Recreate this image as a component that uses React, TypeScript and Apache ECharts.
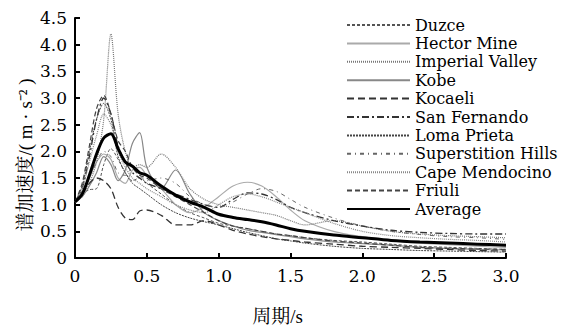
import React, { useEffect, useRef } from "react";
import * as echarts from "echarts";

const periods = [0, 0.05, 0.1, 0.15, 0.2, 0.25, 0.3, 0.35, 0.4, 0.45, 0.5, 0.6, 0.7, 0.8, 0.9, 1.0, 1.1, 1.2, 1.3, 1.4, 1.5, 1.6, 1.8, 2.0, 2.2, 2.4, 2.6, 2.8, 3.0];

const duzce = [1.05, 1.2, 1.28, 1.3, 1.75, 2.05, 1.85, 1.6, 1.45, 1.5, 1.4, 1.2, 1.0, 0.85, 0.75, 0.65, 0.6, 0.55, 0.5, 0.45, 0.42, 0.38, 0.33, 0.3, 0.26, 0.22, 0.2, 0.18, 0.16];
const hectorMine = [1.05, 1.2, 1.5, 1.8, 1.95, 1.85, 1.5, 1.4, 1.65, 1.7, 1.55, 1.3, 1.0, 0.85, 0.95, 1.15, 1.35, 1.42, 1.35, 1.15, 0.9, 0.7, 0.5, 0.4, 0.33, 0.28, 0.25, 0.22, 0.2];
const imperialValley = [1.05, 1.15, 1.4, 1.8, 2.6, 4.2, 2.7, 2.0, 1.7, 1.75, 1.7, 1.95, 1.7, 1.3, 1.1, 1.0, 0.95, 0.9, 0.85, 0.8, 0.7, 0.62, 0.7, 0.6, 0.5, 0.45, 0.42, 0.4, 0.38];
const kobe = [1.05, 1.15, 1.35, 1.6, 1.9, 1.75, 1.45, 1.65, 2.15, 2.35, 1.7, 1.3, 1.65, 1.2, 0.85, 0.7, 0.6, 0.52, 0.48, 0.44, 0.4, 0.36, 0.3, 0.27, 0.24, 0.2, 0.18, 0.16, 0.15];
const kocaeli = [1.05, 1.2, 1.4, 1.5, 1.45, 1.3, 0.95, 0.75, 0.72, 0.88, 0.9, 0.8, 0.62, 0.62, 0.7, 0.62, 0.52, 0.45, 0.4, 0.36, 0.33, 0.3, 0.26, 0.22, 0.2, 0.18, 0.16, 0.14, 0.13];
const sanFernando = [1.05, 1.3, 1.9, 2.6, 3.0, 2.7, 2.1, 1.8, 1.6, 1.5, 1.4, 1.3, 1.2, 1.1, 1.0, 0.95, 1.1, 1.22, 1.2, 1.1, 0.95, 0.85, 0.7, 0.6, 0.52, 0.48, 0.46, 0.45, 0.45];
const lomaPrieta = [1.05, 1.35, 2.0, 2.6, 2.9, 2.6, 1.9, 1.6, 1.4, 1.3, 1.2, 1.0, 0.85, 0.75, 0.68, 0.62, 0.55, 0.48, 0.42, 0.36, 0.32, 0.28, 0.22, 0.18, 0.16, 0.14, 0.13, 0.12, 0.11];
const superstitionHills = [1.05, 1.2, 1.5, 1.8, 2.0, 1.9, 1.6, 1.55, 1.7, 1.55, 1.45, 1.5, 1.4, 1.15, 1.0, 0.95, 1.05, 1.2, 1.3, 1.25, 1.1, 0.95, 0.75, 0.6, 0.5, 0.44, 0.4, 0.38, 0.35];
const capeMendocino = [1.05, 1.3, 1.8, 2.3, 2.7, 2.5, 2.0, 1.7, 1.5, 1.4, 1.3, 1.15, 1.0, 0.9, 0.85, 1.0, 1.15, 1.2, 1.15, 1.05, 0.95, 0.85, 0.65, 0.5, 0.42, 0.38, 0.35, 0.33, 0.3];
const friuli = [1.05, 1.4, 2.1, 2.8, 3.05, 2.7, 2.2, 2.0, 1.7, 1.55, 1.5, 1.3, 1.15, 1.0, 0.85, 0.7, 0.6, 0.55, 0.5, 0.45, 0.42, 0.38, 0.32, 0.28, 0.24, 0.2, 0.18, 0.17, 0.16];
const average = [1.05, 1.2, 1.55, 1.95, 2.25, 2.33, 2.05, 1.8, 1.72, 1.6, 1.55, 1.35, 1.18, 1.05, 0.95, 0.82, 0.76, 0.72, 0.68, 0.62, 0.55, 0.5, 0.43, 0.38, 0.33, 0.3, 0.28, 0.26, 0.24];

const seriesNames = ["Duzce", "Hector Mine", "Imperial Valley", "Kobe", "Kocaeli", "San Fernando", "Loma Prieta", "Superstition Hills", "Cape Mendocino", "Friuli", "Average"];
const seriesValues = [duzce, hectorMine, imperialValley, kobe, kocaeli, sanFernando, lomaPrieta, superstitionHills, capeMendocino, friuli, average];

const xTitle = "周期/s";
const yTitle = "谱加速度/( m · s⁻² )";

const styles: any[] = [
  { color: "#555", width: 1, type: [3, 2] },
  { color: "#aaa", width: 1.2, type: "solid" },
  { color: "#777", width: 1.2, type: [1, 1] },
  { color: "#888", width: 1.2, type: "solid" },
  { color: "#333", width: 1.3, type: [7, 4] },
  { color: "#333", width: 1.3, type: [7, 3, 2, 3] },
  { color: "#444", width: 1, type: [2, 1] },
  { color: "#666", width: 1, type: [4, 4, 1, 4] },
  { color: "#888", width: 1.2, type: [1, 1] },
  { color: "#444", width: 1.2, type: [5, 3] },
  { color: "#000", width: 3, type: "solid" },
];

const SERIF = "'DejaVu Serif', 'Noto Serif CJK SC', serif";
const CJK = "'Liberation Serif', 'Noto Serif CJK SC', serif";
const fmt = (v: number) => (v === 0 ? "0" : v.toFixed(1));

export default function App() {
  const ref = useRef<HTMLDivElement>(null);
  useEffect(() => {
    if (!ref.current) return;
    const chart = echarts.init(ref.current, null, { renderer: "svg" });
    chart.setOption({
      animation: false,
      backgroundColor: "#fff",
      textStyle: { fontFamily: SERIF },
      grid: { left: 75, right: 64, top: 18, bottom: 68, outerBoundsMode: "none", containLabel: false },
      legend: {
        orient: "vertical",
        left: 341,
        top: 12,
        itemWidth: 63,
        itemHeight: 10,
        itemGap: 2.4,
        data: seriesNames,
        itemStyle: { opacity: 0, borderWidth: 0 },
        textStyle: { fontFamily: SERIF, fontSize: 16, color: "#000", lineHeight: 16 },
      },
      graphic: [
        {
          type: "text",
          x: 25,
          y: 155,
          rotation: Math.PI / 2,
          style: { text: yTitle, font: "19px " + CJK, fill: "#000", align: "center", verticalAlign: "middle" },
        },
      ],
      xAxis: {
        type: "value",
        min: 0,
        max: 3,
        interval: 0.5,
        name: xTitle,
        nameLocation: "middle",
        nameGap: 49,
        nameTextStyle: { fontFamily: CJK, fontSize: 19, color: "#000", padding: [0, 26, 0, 0] },
        axisLine: { lineStyle: { color: "#000", width: 2 } },
        axisTick: { inside: true, length: 5, lineStyle: { color: "#000", width: 2 } },
        axisLabel: { formatter: fmt, fontFamily: SERIF, fontSize: 17, color: "#000", margin: 9 },
        splitLine: { show: false },
      },
      yAxis: {
        type: "value",
        min: 0,
        max: 4.5,
        interval: 0.5,
        axisLine: { show: true, lineStyle: { color: "#000", width: 2 } },
        axisTick: { show: true, inside: true, length: 5, lineStyle: { color: "#000", width: 2 } },
        axisLabel: { formatter: fmt, fontFamily: SERIF, fontSize: 17, color: "#000", margin: 8 },
        splitLine: { show: false },
      },
      series: seriesNames.map((name, i) => ({
        name,
        type: "line",
        smooth: 0.3,
        symbol: "none",
        data: periods.map((t, j) => [t, seriesValues[i][j]]),
        lineStyle: styles[i],
        itemStyle: { color: styles[i].color },
        z: i === 10 ? 5 : 2,
      })),
    });
    return () => chart.dispose();
  }, []);
  return <div ref={ref} style={{ position: "fixed", left: 0, top: 0, width: 570, height: 326 }} />;
}
